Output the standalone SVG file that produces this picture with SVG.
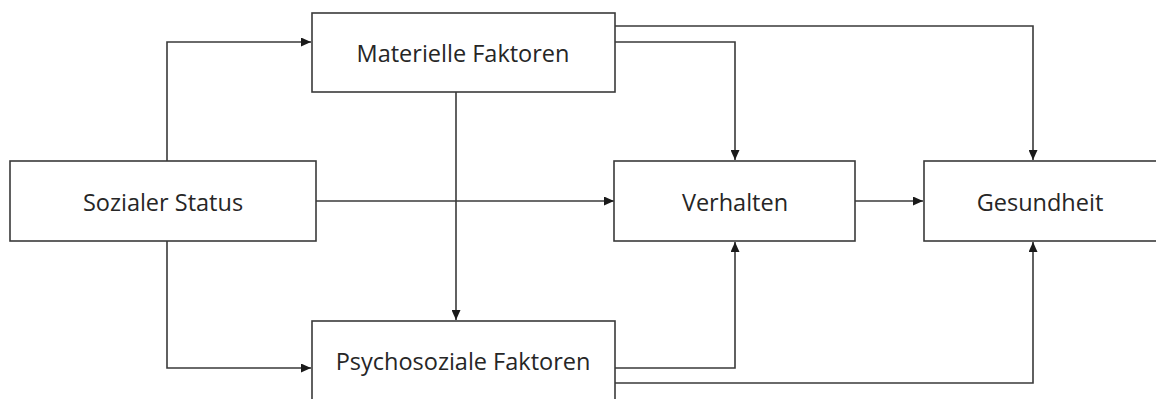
<svg xmlns="http://www.w3.org/2000/svg" width="1156" height="399" viewBox="0 0 1156 399">
<defs>
<style>
.box{fill:#fff;stroke:#3a3a3a;stroke-width:1.6}
.lbl{font-family:"Open Sans","Noto Sans",sans-serif;font-size:23.5px;fill:#262626;text-anchor:middle}
.con{fill:none;stroke:#3a3a3a;stroke-width:1.6}
</style>
<marker id="ah" viewBox="0 0 10 10" refX="10" refY="5" markerWidth="10" markerHeight="9" markerUnits="userSpaceOnUse" orient="auto" preserveAspectRatio="none">
<path d="M0,0 L10,5 L0,10 Z" fill="#1a1a1a"/>
</marker>
</defs>
<rect width="1156" height="399" fill="#fff"/>
<g id="connectors">
<path class="con" d="M167,161 V42 H311" marker-end="url(#ah)"/>
<path class="con" d="M167,241 V368 H311" marker-end="url(#ah)"/>
<path class="con" d="M316,201 H614" marker-end="url(#ah)"/>
<path class="con" d="M456,92 V320" marker-end="url(#ah)"/>
<path class="con" d="M615,42 H735 V160" marker-end="url(#ah)"/>
<path class="con" d="M615,26 H1033 V160" marker-end="url(#ah)"/>
<path class="con" d="M615,368 H735 V242" marker-end="url(#ah)"/>
<path class="con" d="M615,383 H1033 V242" marker-end="url(#ah)"/>
<path class="con" d="M855,201 H923" marker-end="url(#ah)"/>
</g>
<g id="node-materielle">
<rect class="box" x="312" y="13" width="303" height="79"/>
<text class="lbl" x="463" y="62">Materielle Faktoren</text>
</g>
<g id="node-sozialer">
<rect class="box" x="10" y="161" width="306" height="80"/>
<text class="lbl" x="163" y="211">Sozialer Status</text>
</g>
<g id="node-verhalten">
<rect class="box" x="614" y="161" width="241" height="80"/>
<text class="lbl" x="735" y="211">Verhalten</text>
</g>
<g id="node-gesundheit">
<rect class="box" x="924" y="161" width="240" height="80"/>
<text class="lbl" x="1040" y="211">Gesundheit</text>
</g>
<g id="node-psychosoziale">
<rect class="box" x="312" y="321" width="303" height="90"/>
<text class="lbl" x="463" y="370">Psychosoziale Faktoren</text>
</g>
</svg>
